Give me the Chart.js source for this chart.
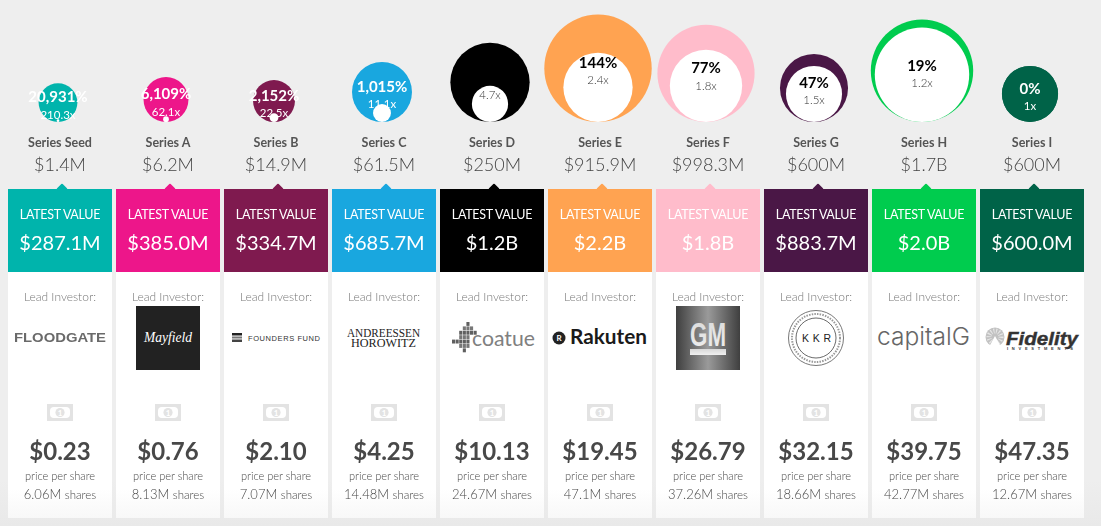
<!DOCTYPE html>
<html>
<head>
<meta charset="utf-8">
<title>Funding rounds</title>
<script src="https://cdn.jsdelivr.net/npm/chart.js@4/dist/chart.umd.min.js"></script>
<style>
html, body { margin: 0; padding: 0; width: 1101px; height: 526px; overflow: hidden; background: #eeeeee; font-family: Lato, sans-serif; }
#page { position: absolute; left: 0; top: 0; width: 1101px; height: 526px; background: linear-gradient(#eeeeee 0, #eeeeee 480px, #e9e9e9 526px); opacity: 0.999; }
#bubbles { position: absolute; left: 0; top: 0; z-index: 2; }
.t { position: absolute; width: 104px; text-align: center; white-space: nowrap; line-height: 20px; height: 20px; }
.card { position: absolute; top: 189px; width: 104px; height: 329px; background: linear-gradient(#ffffff 0, #ffffff 300px, #f8f8f8 329px); }
.head { position: absolute; top: 189px; width: 104px; height: 83px; }
.notch { position: absolute; top: 185px; width: 8px; height: 8px; transform: rotate(45deg); border-radius: 1px; }
.logo { position: absolute; left: 0; top: 0; }
</style>
</head>
<body>
<div id="page"></div>
<svg class="logo" id="logos" width="1101" height="526" style="z-index:1">
  <defs>
    <linearGradient id="gmBg" x1="0" x2="1" y1="0" y2="0">
      <stop offset="0" stop-color="#3f3f3f"/><stop offset="0.5" stop-color="#9a9a9a"/><stop offset="1" stop-color="#3f3f3f"/>
    </linearGradient>
    <linearGradient id="gmFg" x1="0" x2="0" y1="0" y2="1">
      <stop offset="0" stop-color="#d8d8d8"/><stop offset="1" stop-color="#f0f0f0"/>
    </linearGradient>
    <filter id="soft"><feGaussianBlur stdDeviation="0.5"/></filter>
    <g id="bill">
      <path d="M0 0h26v17h-26z" fill="#e3e3e3"/>
      <rect x="3" y="3" width="20" height="11" rx="4" fill="#fff"/>
      <circle cx="13" cy="8.5" r="4.6" fill="#e3e3e3"/>
      <text x="13" y="11.5" font-size="8" font-weight="700" fill="#fff" text-anchor="middle" font-family="Lato">1</text>
    </g>
  </defs>
  <!-- floodgate -->
  <text x="14" y="342" font-family="Liberation Sans" font-weight="700" font-size="13" fill="#6a6a6a" textLength="92" lengthAdjust="spacingAndGlyphs" filter="url(#soft)">FLOODGATE</text>
  <!-- mayfield -->
  <rect x="136" y="306" width="64" height="64" fill="#222222"/>
  <text x="168" y="342" font-family="Liberation Serif" font-style="italic" font-size="15" fill="#ffffff" text-anchor="middle" textLength="48" lengthAdjust="spacingAndGlyphs">Mayfield</text>
  <!-- founders fund -->
  <rect x="232" y="333" width="10" height="2.5" fill="#222"/><rect x="232" y="336.5" width="10" height="2" fill="#777"/><rect x="232" y="339.5" width="10" height="2.5" fill="#444"/>
  <text x="248" y="341" font-family="Liberation Sans" font-size="7.5" fill="#333" textLength="72" lengthAdjust="spacing">FOUNDERS FUND</text>
  <!-- a16z -->
  <text x="347" y="337" font-family="Liberation Serif" font-size="11.5" fill="#222" textLength="73" lengthAdjust="spacingAndGlyphs">ANDREESSEN</text>
  <text x="351" y="347" font-family="Liberation Serif" font-size="11.5" fill="#222" textLength="65" lengthAdjust="spacingAndGlyphs">HOROWITZ</text>
  <!-- coatue -->
  <g fill="#6e6e6e" id="coatueDots"></g>
  <text x="472" y="346" font-family="Lato" font-size="21" fill="#808080" textLength="63" lengthAdjust="spacingAndGlyphs">coatue</text>
  <!-- rakuten -->
  <circle cx="559" cy="338" r="6.5" fill="#222"/>
  <text x="559" y="341" font-family="Lato" font-weight="700" font-size="8" fill="#fff" text-anchor="middle">R</text>
  <text x="570" y="344" font-family="Lato" font-weight="700" font-size="20" fill="#1a1a1a" textLength="77" lengthAdjust="spacingAndGlyphs">Rakuten</text>
  <!-- gm -->
  <rect x="676" y="306" width="64" height="64" fill="url(#gmBg)"/>
  <text x="690" y="346" font-family="Liberation Sans" font-weight="700" font-size="34" fill="url(#gmFg)" textLength="36" lengthAdjust="spacingAndGlyphs">GM</text>
  <rect x="690" y="349" width="36" height="6" fill="url(#gmFg)"/>
  <!-- kkr -->
  <circle cx="816" cy="338" r="27.5" fill="none" stroke="#555" stroke-width="0.8"/>
  <circle cx="816" cy="338" r="24" fill="none" stroke="#999" stroke-width="2" stroke-dasharray="1.5 1.2"/>
  <circle cx="816" cy="338" r="20" fill="none" stroke="#444" stroke-width="0.8"/>
  <text x="802" y="342" font-family="Liberation Sans" font-size="10.5" fill="#222" textLength="29" lengthAdjust="spacing">KKR</text>
  <!-- capitalG -->
  <text x="877" y="345" font-family="Inter" font-weight="300" font-size="24" fill="#666" textLength="93" lengthAdjust="spacingAndGlyphs">capitalG</text>
  <!-- fidelity -->
  <circle cx="995" cy="337" r="9.5" fill="#c2c2c2"/>
  <circle cx="995" cy="337" r="6" fill="none" stroke="#fff" stroke-width="5" stroke-dasharray="1 1.6" opacity="0.6"/>
  <path d="M995 336l-6 11h12z" fill="#fff"/>
  <text x="1006" y="345" font-family="Liberation Sans" font-weight="700" font-style="italic" font-size="18" fill="#333" stroke="#333" stroke-width="0.4" textLength="72" lengthAdjust="spacingAndGlyphs">Fidelity</text>
  <text x="1007" y="349.5" font-family="Liberation Sans" font-weight="700" font-size="4" fill="#333" textLength="66" lengthAdjust="spacing">INVESTMENTS</text>
</svg>
<canvas id="bubbles" width="1101" height="526"></canvas>
<script>
// rounds
var seriesNames = ['Series Seed', 'Series A', 'Series B', 'Series C', 'Series D', 'Series E', 'Series F', 'Series G', 'Series H', 'Series I'];
var raisedLabels = ['$1.4M', '$6.2M', '$14.9M', '$61.5M', '$250M', '$915.9M', '$998.3M', '$600M', '$1.7B', '$600M'];
var latestLabels = ['$287.1M', '$385.0M', '$334.7M', '$685.7M', '$1.2B', '$2.2B', '$1.8B', '$883.7M', '$2.0B', '$600.0M'];
// both in $M
var raisedValues = [1.4, 6.2, 14.9, 61.5, 250, 915.9, 998.3, 600, 1700, 600];
var latestValues = [287.1, 385, 334.7, 685.7, 1200, 2200, 1800, 883.7, 2000, 600];
// series D has no percent to read, it is black on black in the picture
var gainLabels = ['20,931%', '6,109%', '2,152%', '1,015%', '', '144%', '77%', '47%', '19%', '0%'];
var multipleLabels = ['210.3x', '62.1x', '22.5x', '11.1x', '4.7x', '2.4x', '1.8x', '1.5x', '1.2x', '1x'];
var prices = ['$0.23', '$0.76', '$2.10', '$4.25', '$10.13', '$19.45', '$26.79', '$32.15', '$39.75', '$47.35'];
var shares = ['6.06M', '8.13M', '7.07M', '14.48M', '24.67M', '47.1M', '37.26M', '18.66M', '42.77M', '12.67M'];
var colors = ['#00b4ac', '#ed168a', '#7f1a4f', '#19a7df', '#000000', '#ffa351', '#ffbccb', '#4a1746', '#00cc4e', '#006348'];
var darkLabels = [false, false, false, false, true, true, true, true, true, false];

var pitch = 108, firstCard = 8, baseline = 122, firstBubble = 58, k = 1.145;
var W = 1101, H = 526;

// cards, plain DOM
var page = document.getElementById('page');
function add(cls, left, top, css, html) {
  var d = document.createElement('div');
  d.className = cls;
  d.style.cssText = 'left:' + left + 'px;' + (top === null ? '' : 'top:' + top + 'px;') + css;
  d.innerHTML = html || '';
  page.appendChild(d);
}
var ink = '#484848';
seriesNames.forEach(function (name, i) {
  var x = firstCard + i * pitch;
  add('t', x, 133, 'font-weight:700;font-size:12.5px;color:#555;', name);
  add('t', x, 154, 'font-weight:300;font-size:18px;color:#444;', raisedLabels[i]);
  add('card', x, null, '');
  add('notch', x + 50, null, 'background:' + colors[i] + ';');
  add('head', x, null, 'background:' + colors[i] + ';');
  add('t', x, 205, 'font-size:12.5px;letter-spacing:-0.3px;color:#fff;', 'LATEST VALUE');
  add('t', x, 232, 'font-size:20px;color:#fff;', latestLabels[i]);
  add('t', x, 287, 'font-weight:300;font-size:12px;color:#777;', 'Lead Investor:');
  add('t', x, 441, 'font-weight:700;font-size:24px;color:' + ink + ';', prices[i]);
  add('t', x, 466, 'font-weight:300;font-size:11px;color:' + ink + ';', 'price per share');
  add('t', x, 484, 'font-weight:300;font-size:13px;color:' + ink + ';', shares[i] + ' <span style="font-size:11.5px;font-weight:300">shares</span>');
});

// svg bits repeated per card
var svgNS = 'http://www.w3.org/2000/svg';
var logos = document.getElementById('logos');
seriesNames.forEach(function (name, i) {
  var u = document.createElementNS(svgNS, 'use');
  u.setAttribute('href', '#bill');
  u.setAttribute('x', 47 + i * pitch);
  u.setAttribute('y', 404);
  logos.appendChild(u);
});
var coatue = [[4, 0], [3, 1], [4, 1], [5, 1], [2, 2], [3, 2], [4, 2], [5, 2], [6, 2], [2, 3], [3, 3], [4, 3], [0, 4], [1, 4], [2, 4], [3, 4], [4, 4], [2, 5], [3, 5], [4, 5], [3, 6]];
coatue.forEach(function (c) {
  var r = document.createElementNS(svgNS, 'rect');
  r.setAttribute('x', 452 + c[0] * 3.6);
  r.setAttribute('y', 322 + c[1] * 4.4);
  r.setAttribute('width', 3.1);
  r.setAttribute('height', 3.9);
  r.setAttribute('fill', c[1] % 2 ? '#777' : '#5f5f5f');
  document.getElementById('coatueDots').appendChild(r);
});

// y axis is in sqrt($M), so a bubble's centre sits one radius above the baseline
function bubblePoints(values) {
  return values.map(function (v, i) {
    return { x: i, y: Math.sqrt(v), r: k * Math.sqrt(v) };
  });
}

var labelsPlugin = {
  id: 'bubbleLabels',
  afterDatasetsDraw: function (chart) {
    var c = chart.ctx, xs = chart.scales.x, ys = chart.scales.y;
    c.save();
    c.textAlign = 'center';
    c.textBaseline = 'middle';
    latestValues.forEach(function (v, i) {
      var cx = xs.getPixelForValue(i), cy = ys.getPixelForValue(Math.sqrt(v));
      c.fillStyle = darkLabels[i] ? '#000' : '#fff';
      c.font = '700 15px Lato';
      c.fillText(gainLabels[i], cx, cy - 5);
      c.fillStyle = darkLabels[i] ? '#333' : '#fff';
      c.font = (darkLabels[i] ? '300' : '400') + ' 11.5px Lato';
      c.fillText(multipleLabels[i], cx, cy + 12.5);
    });
    c.restore();
  }
};

var ctx = document.getElementById('bubbles').getContext('2d');
var bubbleChart = new Chart(ctx, {
  type: 'bubble',
  data: {
    datasets: [{
      label: 'Raised',
      data: bubblePoints(raisedValues),
      // last round has not moved, so the inner circle keeps the round colour
      backgroundColor: raisedValues.map(function (v, i) { return v === latestValues[i] ? colors[i] : '#ffffff'; }),
      borderWidth: 0,
      order: 0
    }, {
      label: 'Latest value',
      data: bubblePoints(latestValues),
      backgroundColor: colors,
      borderWidth: 0,
      order: 1
    }]
  },
  options: {
    responsive: false,
    animation: false,
    layout: { padding: 0, autoPadding: false },
    plugins: { legend: { display: false }, tooltip: { enabled: false } },
    scales: {
      x: { type: 'linear', display: false, min: -firstBubble / pitch, max: (W - firstBubble) / pitch },
      y: { type: 'linear', display: false, min: (baseline - H) / k, max: baseline / k }
    }
  },
  plugins: [labelsPlugin]
});
</script>
</body>
</html>
